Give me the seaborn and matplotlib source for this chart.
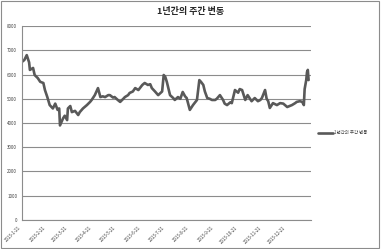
import matplotlib
matplotlib.use("Agg")
import matplotlib.pyplot as plt
import matplotlib.patches as mpatches
import seaborn as sns
import pandas as pd
import numpy as np

sns.set_style("white")
plt.rcParams['font.family'] = ['Noto Sans CJK KR', 'DejaVu Sans']

title = "1년간의 주간 변동"
series_name = "1년간의 주간 변동"
start_date = "2013-01-21"
day_offsets = [0, 3, 6, 9, 10, 14, 16, 20, 23, 27, 29, 32, 35, 39, 42, 45, 47, 48, 52, 54,
               57, 58, 61, 63, 67, 71, 73, 77, 82, 86, 88, 92, 96, 99, 102, 105, 109, 111, 115, 117,
               121, 124, 128, 130, 134, 136, 140, 143, 147, 152, 155, 159, 162, 164, 168, 172, 177, 179, 181, 183,
               187, 191, 193, 197, 200, 203, 206, 208, 212, 216, 221, 224, 226, 229, 231, 234, 237, 240, 244, 246,
               250, 254, 256, 259, 263, 265, 269, 273, 275, 278, 282, 285, 288, 290, 294, 298, 301, 303, 307, 309,
               311, 313, 317, 322, 326, 330, 335, 338, 341, 345, 347, 351, 354, 356, 357, 359, 360, 361, 362]
values = [6520, 6600, 6800, 6500, 6190, 6270, 5980, 5850, 5700, 5650, 5360, 5070, 4740, 4600, 4800, 4540, 4600, 3900, 4200, 4300,
          4120, 4600, 4700, 4450, 4500, 4330, 4450, 4600, 4740, 4870, 4950, 5150, 5440, 5070, 5100, 5070, 5150, 5150, 5050, 5070,
          4950, 4870, 5000, 5070, 5150, 5240, 5300, 5440, 5360, 5570, 5650, 5570, 5600, 5440, 5300, 5150, 5300, 5980, 5900, 5690,
          5150, 5030, 4950, 5070, 5000, 5280, 5100, 5030, 4540, 4740, 4950, 5770, 5700, 5570, 5300, 5030, 5000, 4950, 4950, 5000,
          5150, 4950, 4800, 4740, 4850, 4820, 5360, 5250, 5400, 5360, 4950, 5150, 5000, 4900, 5030, 4900, 4950, 5030, 5360, 5000,
          4900, 4620, 4820, 4740, 4820, 4800, 4660, 4700, 4740, 4820, 4870, 4900, 4870, 4740, 5400, 5770, 6100, 6190, 5770]
tick_labels = ["2013-1-21", "2013-2-21", "2013-3-21", "2013-4-21", "2013-5-21", "2013-6-21",
               "2013-7-21", "2013-8-21", "2013-9-21", "2013-10-21", "2013-11-21", "2013-12-21"]
y_ticks = [0, 1000, 2000, 3000, 4000, 5000, 6000, 7000, 8000]

df = pd.DataFrame({
    "date": pd.Timestamp(start_date) + pd.to_timedelta(day_offsets, unit="D"),
    "value": values,
    "series": series_name,
})

fig = plt.figure(figsize=(3.81, 2.49), dpi=100)
ax = fig.add_axes([0.0577, 0.1165, 0.7585, 0.779])

sns.lineplot(data=df, x="date", y="value", hue="series", palette=["#595959"],
             linewidth=1.9, ax=ax)

tick_dates = pd.date_range(start_date, periods=13, freq=pd.DateOffset(months=1))
ax.set_xlim(tick_dates[0], tick_dates[-1])
ax.set_xticks(tick_dates)
ax.set_xticklabels(tick_labels + [""], rotation=45, ha="right", fontsize=3.2, color="#404040")
ax.set_ylim(0, 8000)
ax.set_yticks(y_ticks)
ax.set_yticklabels([str(v) for v in y_ticks], fontsize=3.2, color="#404040")
ax.set_xlabel("")
ax.set_ylabel("")

ax.grid(axis="y", color="#8c8c8c", linewidth=0.8)
ax.grid(axis="x", visible=False)
for s in ["top", "right"]:
    ax.spines[s].set_visible(False)
for s in ["left", "bottom"]:
    ax.spines[s].set_color("#8c8c8c")
    ax.spines[s].set_linewidth(0.8)
ax.tick_params(axis="both", length=2, width=0.6, color="#8c8c8c", pad=1.5)

leg = ax.legend(loc="center left", bbox_to_anchor=(1.01, 0.45), frameon=False,
                fontsize=3.2, handlelength=3.5, handletextpad=0.2)
for t in leg.get_texts():
    t.set_color("#404040")

fig.text(0.5, 0.952, title, ha="center", va="center", fontsize=6.5, fontweight="bold")

fig.patches.append(mpatches.Rectangle((0.002, 0.004), 0.994, 0.99, transform=fig.transFigure,
                                      fill=False, edgecolor="#8c8c8c", linewidth=0.8))

fig.savefig("out.png", dpi=100)
